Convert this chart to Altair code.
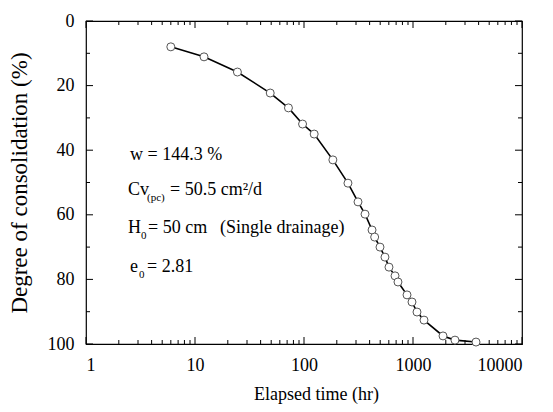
import altair as alt
import pandas as pd

# ---- data ----
time_hr = [6.0, 12.1, 24.5, 49, 72, 97, 124, 184, 253, 313, 363, 421, 445, 498,
           553, 602, 684, 728, 881, 979, 1088, 1262, 1885, 2427, 3785]
consolidation = [8.0, 11.1, 15.8, 22.3, 26.9, 31.9, 35.0, 43.0, 50.2, 56.0, 59.8,
                 64.7, 66.9, 70.0, 73.1, 76.2, 78.9, 80.8, 84.8, 87.0, 90.1, 92.6,
                 97.5, 98.8, 99.4]

x_major = [1, 10, 100, 1000, 10000]
x_minor = [m * d for d in [1, 10, 100, 1000] for m in range(2, 10)]
y_major = [0, 20, 40, 60, 80, 100]
y_minor = [10, 30, 50, 70, 90]

# annotation lines (anchor in data units) and their texts
annot_x = 2.43
annot_y = [43.0, 53.9, 65.6, 77.7]
annot_text = ["w = 144.3 %", "Cv", "(pc)", "= 50.5 cm²/d", "H", "0", "= 50 cm",
              "(Single drainage)", "e", "0", "= 2.81"]

df = pd.DataFrame({"time": time_hr, "deg": consolidation})

FONT = "Liberation Serif"
W, H = 436, 323
xscale = alt.Scale(type="log", domain=[1, 10000], nice=False)
yscale = alt.Scale(domain=[0, 100], reverse=True, nice=False, zero=False)

x_main_axis = alt.Axis(orient="bottom", values=x_major, format="d", title="Elapsed time  (hr)",
                       domain=False, grid=False, ticks=False,
                       labelPadding=26, labelBaseline="alphabetic",
                       labelFontSize=18, labelFont=FONT, labelColor="black",
                       titleFont=FONT, titleFontSize=18, titleFontWeight="normal",
                       titleColor="black", titleY=55, titleX=230, titleBaseline="alphabetic",
                       titleAlign="center")
y_main_axis = alt.Axis(orient="left", values=y_major, format="d",
                       title="Degree of consolidation  (%)",
                       domain=False, grid=False, ticks=False, labelPadding=12,
                       labelFontSize=18, labelFont=FONT, labelColor="black",
                       titleFont=FONT, titleFontSize=23, titleFontWeight="normal",
                       titleColor="black", titleX=-67, titleBaseline="middle",
                       titleAlign="center")

line = alt.Chart(df).mark_line(color="black", strokeWidth=1.6).encode(
    x=alt.X("time:Q", scale=xscale, axis=x_main_axis),
    y=alt.Y("deg:Q", scale=yscale, axis=y_main_axis),
)

pts = alt.Chart(df).mark_point(shape="circle", filled=True, fill="white", stroke="#555555",
                               strokeWidth=1, size=64, opacity=1).encode(
    x=alt.X("time:Q", scale=xscale, axis=None),
    y=alt.Y("deg:Q", scale=yscale, axis=None),
)


# inward tick marks on all four sides, placed through the scales
def xticks(values, length):
    d = pd.DataFrame({"v": values})
    base = alt.Chart(d).mark_rule(color="black", strokeWidth=1)
    bottom = base.encode(x=alt.X("v:Q", scale=xscale, axis=None),
                         y=alt.value(H), y2=alt.value(H - length))
    top = base.encode(x=alt.X("v:Q", scale=xscale, axis=None),
                      y=alt.value(0), y2=alt.value(length))
    return [bottom, top]


def yticks(values, length):
    d = pd.DataFrame({"v": values})
    base = alt.Chart(d).mark_rule(color="black", strokeWidth=1)
    left = base.encode(y=alt.Y("v:Q", scale=yscale, axis=None),
                       x=alt.value(0), x2=alt.value(length))
    right = base.encode(y=alt.Y("v:Q", scale=yscale, axis=None),
                        x=alt.value(W), x2=alt.value(W - length))
    return [left, right]


tick_layers = xticks(x_major, 7) + xticks(x_minor, 4) + yticks(y_major, 7) + yticks(y_minor, 4)

# text pieces: (text index, line index, dx, dy, font size)
piece_layout = [(0, 0, 2, 0, 18), (1, 1, 0, 0, 18), (2, 1, 19, 6, 11), (3, 1, 42, 0, 18),
                (4, 2, 0, 0, 18), (5, 2, 13, 6, 11), (6, 2, 20, 0, 18), (7, 2, 92, 0, 18),
                (8, 3, 2, 0, 18), (9, 3, 11, 6, 11), (10, 3, 19, 0, 18)]
texts = []
for ti, li, dx, dy, fs in piece_layout:
    tdf = pd.DataFrame({"x": [annot_x], "y": [annot_y[li]], "t": [annot_text[ti]]})
    texts.append(alt.Chart(tdf).mark_text(align="left", baseline="alphabetic", dx=dx, dy=dy,
                                          fontSize=fs, font=FONT, color="black").encode(
        x=alt.X("x:Q", scale=xscale, axis=None),
        y=alt.Y("y:Q", scale=yscale, axis=None),
        text="t:N",
    ))

chart = alt.layer(line, *tick_layers, pts, *texts).resolve_axis(
    x="independent", y="independent"
).properties(
    width=W, height=H,
    autosize=alt.AutoSizeParams(type="none"),
    padding={"left": 86, "top": 21, "right": 31, "bottom": 68},
).configure(background="white", font=FONT).configure_axis(
    labelFont=FONT, titleFont=FONT, labelColor="black", titleColor="black"
).configure_view(stroke="black", strokeWidth=1.2)

chart.save("out.html", embed_options={"renderer": "svg", "actions": False})
